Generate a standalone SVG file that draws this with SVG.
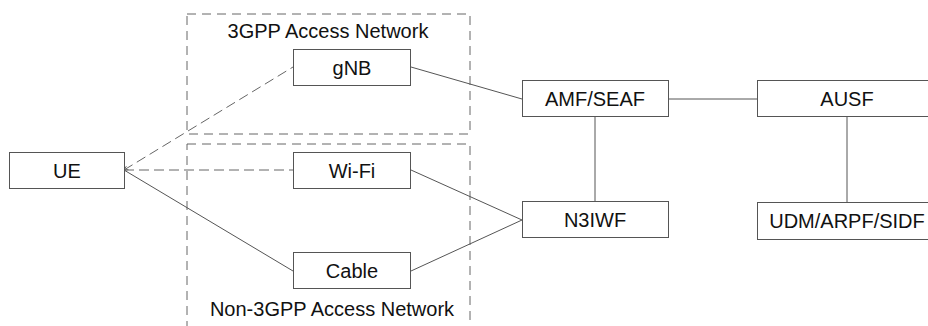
<svg xmlns="http://www.w3.org/2000/svg" width="928" height="326" viewBox="0 0 928 326">
<style>
.node{fill:#fff;stroke:#555;stroke-width:1}
.area{fill:none;stroke:#666;stroke-width:1;stroke-dasharray:9 6}
.t{font-family:"Liberation Sans",Arial,sans-serif;font-size:20px;fill:#111;text-anchor:middle;dominant-baseline:central}
.c{fill:none;stroke:#555;stroke-width:1}
.d{fill:none;stroke:#666;stroke-width:1;stroke-dasharray:10 5}
</style>
<defs>
<marker id="tip" markerWidth="6" markerHeight="6" refX="0" refY="3" orient="auto" markerUnits="userSpaceOnUse">
<path d="M4,1 L0,3 L4,5" fill="none" stroke="#555" stroke-width="0.8"/>
</marker>
</defs>
<g id="area-3gpp">
<rect class="area" x="187" y="14" width="283" height="120"/>
<text class="t" x="328" y="31">3GPP Access Network</text>
</g>
<g id="area-non3gpp">
<rect class="area" x="187" y="144" width="283" height="200"/>
<text class="t" x="332" y="309">Non-3GPP Access Network</text>
</g>
<g id="connectors">
<line class="d" x1="124" y1="170" x2="293" y2="67" marker-start="url(#tip)"/>
<line class="d" x1="124" y1="170" x2="293" y2="170"/>
<line class="c" x1="124" y1="170" x2="293" y2="271"/>
<line class="c" x1="411" y1="67" x2="522" y2="99"/>
<line class="c" x1="411" y1="170" x2="522" y2="220"/>
<line class="c" x1="411" y1="271" x2="522" y2="220"/>
<line class="c" x1="595" y1="117" x2="595" y2="202"/>
<line class="c" x1="668" y1="99" x2="757" y2="99"/>
<line class="c" x1="847" y1="117" x2="847" y2="203"/>
</g>
<g id="ue"><rect class="node" x="9.5" y="152.5" width="115" height="36"/><text class="t" x="67" y="170.5">UE</text></g>
<g id="gnb"><rect class="node" x="293.5" y="49.5" width="117" height="36"/><text class="t" x="352" y="67.5">gNB</text></g>
<g id="wifi"><rect class="node" x="293.5" y="152.5" width="117" height="36"/><text class="t" x="352" y="170.5">Wi-Fi</text></g>
<g id="cable"><rect class="node" x="293.5" y="252.5" width="117" height="36"/><text class="t" x="352" y="270.5">Cable</text></g>
<g id="amf"><rect class="node" x="522.5" y="80.5" width="146" height="36"/><text class="t" x="595" y="98.5">AMF/SEAF</text></g>
<g id="n3iwf"><rect class="node" x="522.5" y="201.5" width="146" height="36"/><text class="t" x="595" y="219.5">N3IWF</text></g>
<g id="ausf"><rect class="node" x="757.5" y="80.5" width="180" height="36"/><text class="t" x="847" y="98.5">AUSF</text></g>
<g id="udm"><rect class="node" x="757.5" y="202.5" width="180" height="37"/><text class="t" x="847" y="221">UDM/ARPF/SIDF</text></g>
</svg>
